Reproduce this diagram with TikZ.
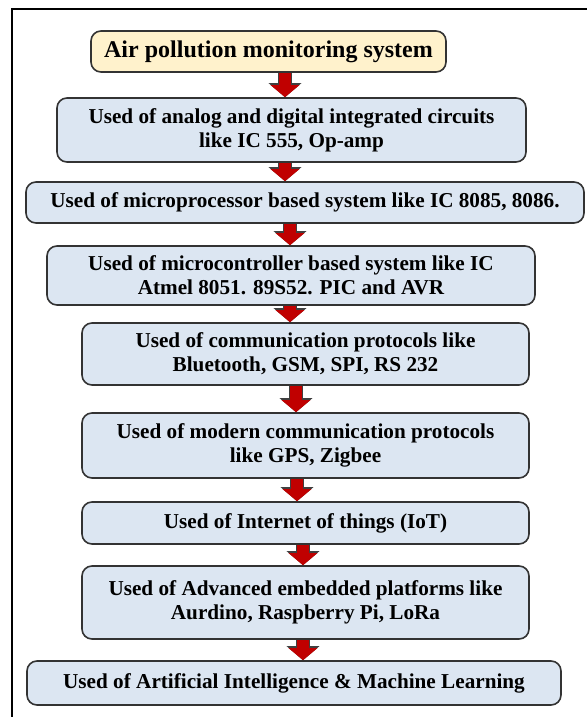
\documentclass[tikz,border=0pt]{standalone}
\usepackage{fontspec}
\setmainfont{Liberation Serif}
\usepackage{tikz}
\usetikzlibrary{arrows.meta,calc,positioning}

\definecolor{stagefill}{HTML}{DCE6F2}
\definecolor{titlefill}{HTML}{FFF2CC}
\definecolor{arrowred}{HTML}{C00000}

\tikzset{
  stage/.style={draw=black!80, line width=0.8pt, rounded corners=5pt,
    fill=stagefill, inner sep=0pt, align=center,
    font=\fontsize{10.6}{12}\selectfont\bfseries},
  headstage/.style={stage, fill=titlefill,
    font=\fontsize{12}{14}\selectfont\bfseries},
  flow/.style={line width=6pt, draw=arrowred,
    -{Triangle[width=14pt,length=6pt]},
    preaction={draw=black!75, line width=7pt,
      -{Triangle[width=16pt,length=7pt]}}}
}

\begin{document}
\begin{tikzpicture}[x=0.5pt,y=-0.5pt]
  % Page and frame
  \useasboundingbox (0,0) rectangle (587,717);
  \draw[line width=1.1pt] (587,9) -- (12,9) -- (12,717);

  % Stages
  \node[headstage, minimum width=177.5pt, minimum height=20.5pt] (aps) at (268.5,51.5)
    {Air pollution monitoring system};
  \node[stage, minimum width=234.5pt, minimum height=32pt] (analog) at (291.5,130)
    {Used of analog and digital integrated circuits\\like IC 555, Op-amp};
  \node[stage, minimum width=279pt, minimum height=20.5pt] (mproc) at (305,202.5)
    {Used of microprocessor based system like IC 8085, 8086.};
  \node[stage, minimum width=244pt, minimum height=29.5pt] (mctrl) at (291,275.5)
    {Used of microcontroller based system like IC\\Atmel 8051. 89S52. PIC and AVR};
  \node[stage, minimum width=223.5pt, minimum height=31pt] (comm) at (305.5,354)
    {Used of communication protocols like\\Bluetooth, GSM, SPI, RS 232};
  \node[stage, minimum width=223.5pt, minimum height=32.5pt] (modcomm) at (305.5,445.5)
    {Used of modern communication protocols\\like GPS, Zigbee};
  \node[stage, minimum width=223.5pt, minimum height=21pt] (iot) at (305.5,523)
    {Used of Internet of things (IoT)};
  \node[stage, minimum width=223.5pt, minimum height=36.5pt] (embed) at (305.5,602.5)
    {Used of Advanced embedded platforms like\\Aurdino, Raspberry Pi, LoRa};
  \node[stage, minimum width=267pt, minimum height=22pt] (aiml) at (294,683)
    {Used of Artificial Intelligence \& Machine Learning};

  % Flow arrows (slightly off centre, as drawn)
  \foreach \from/\to/\ax in {aps/analog/285, analog/mproc/285, mproc/mctrl/290,
      mctrl/comm/290, comm/modcomm/296, modcomm/iot/297, iot/embed/303, embed/aiml/303}{
    \coordinate (ax) at (\ax,0);
    \draw[flow] (\from.south -| ax) -- (\to.north -| ax);
  }
\end{tikzpicture}
\end{document}
